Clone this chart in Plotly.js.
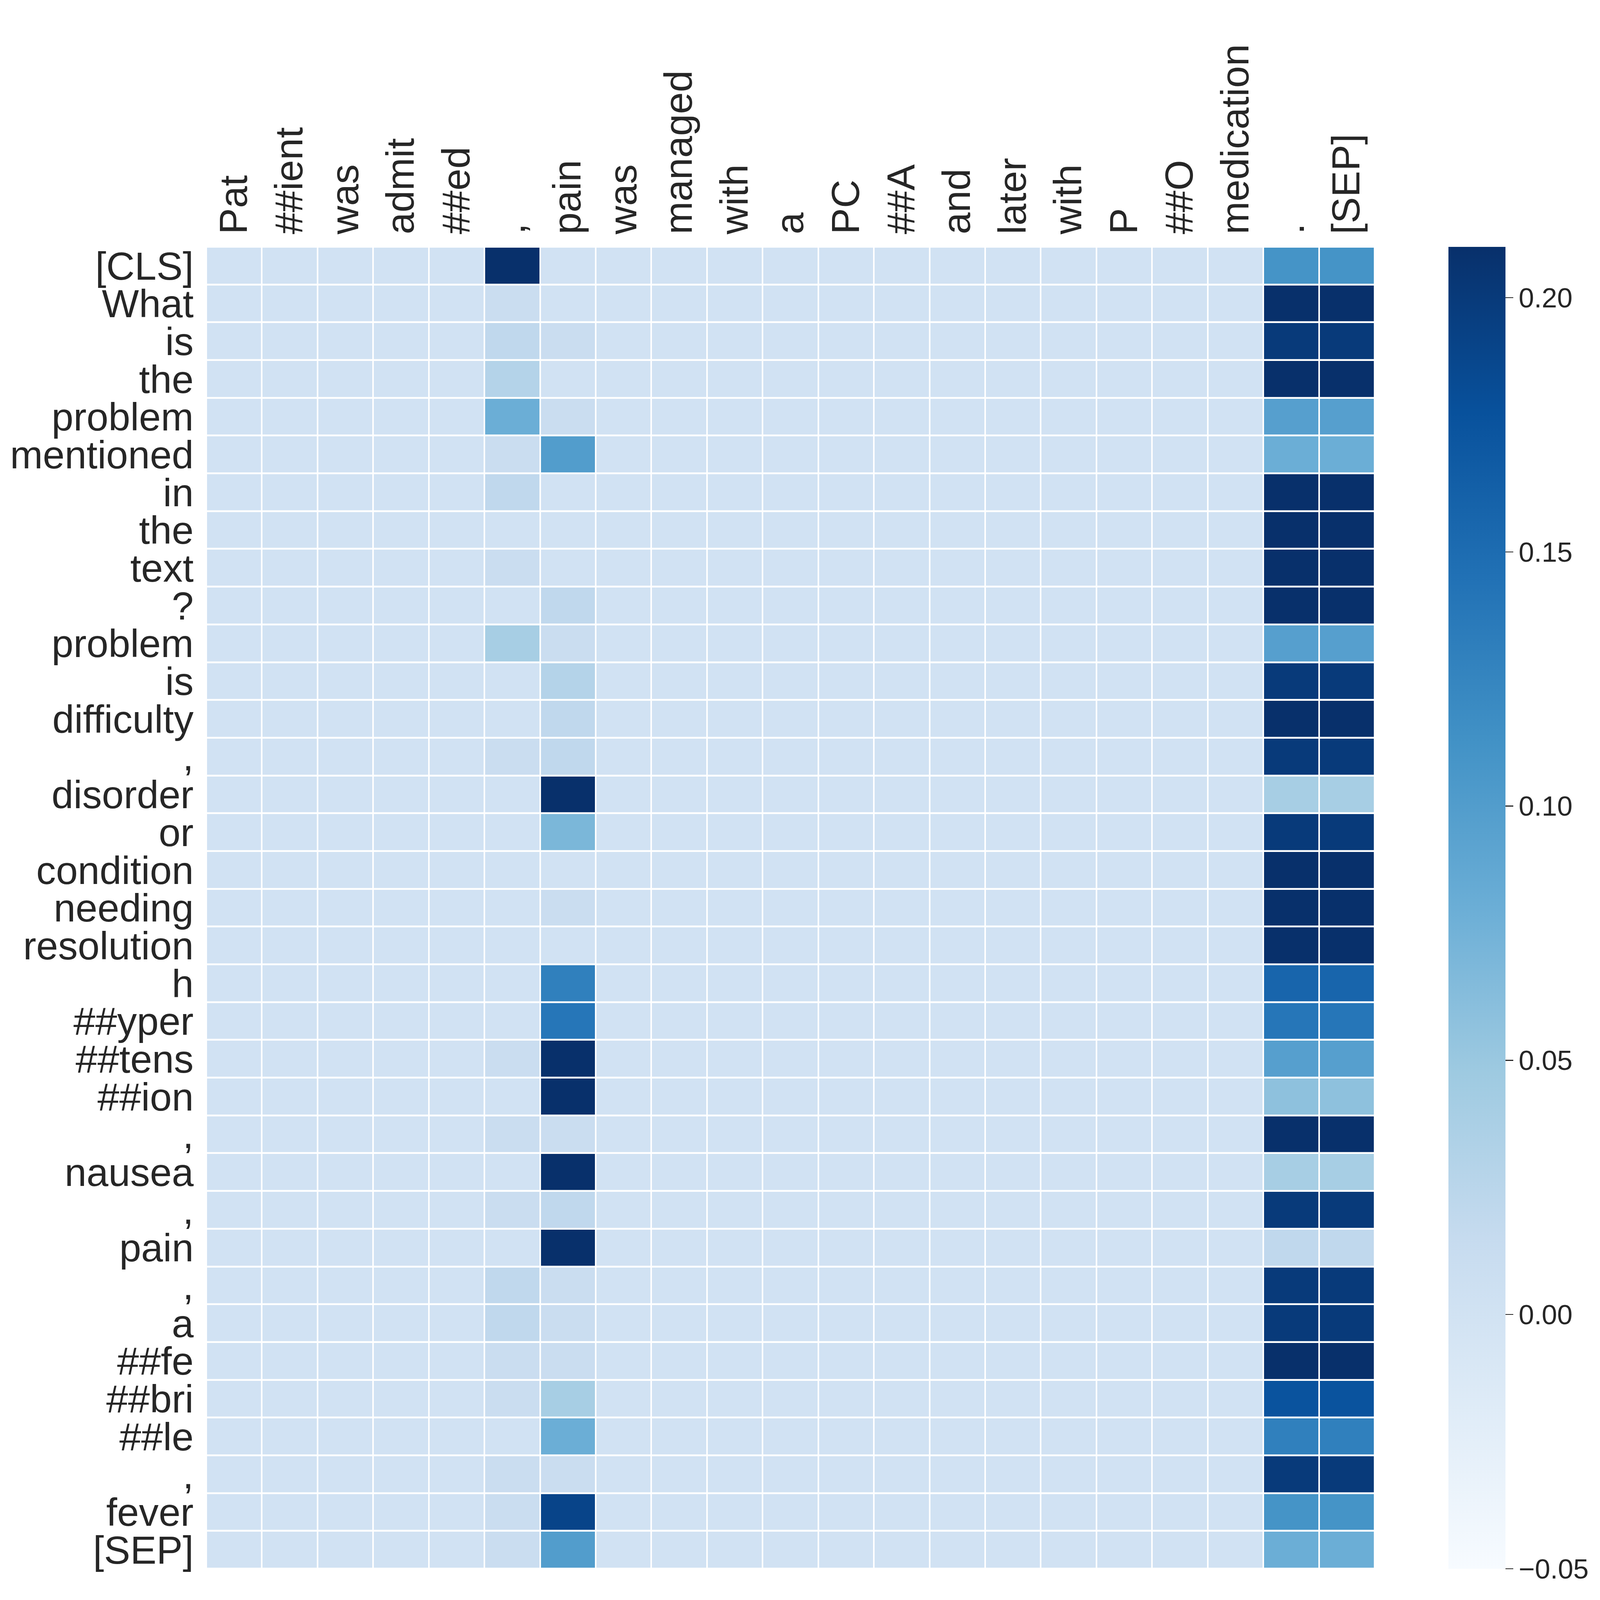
<!DOCTYPE html>
<html>
<head>
<meta charset="utf-8">
<script src="https://cdn.plot.ly/plotly-3.0.1.min.js"></script>
<style>html,body{margin:0;padding:0;background:#fff;overflow:hidden;}</style>
</head>
<body>
<div id="chart"></div>
<script>
// Column tokens (context) and row tokens (question)
const xLabels = ["Pat","##ient","was","admit","##ed",",","pain","was","managed","with","a","PC","##A","and","later","with","P","##O","medication",".","[SEP]"];
const yLabels = ["[CLS]","What","is","the","problem","mentioned","in","the","text","?","problem","is","difficulty",",","disorder","or","condition","needing","resolution","h","##yper","##tens","##ion",",","nausea",",","pain",",","a","##fe","##bri","##le",",","fever","[SEP]"];

// Attention values per column (one value per row token)
const flatCol   = [0,0,0,0,0,0,0,0,0,0,0,0,0,0,0,0,0,0,0,0,0,0,0,0,0,0,0,0,0,0,0,0,0,0,0];
const commaCol  = [0.24,0.01,0.02,0.03,0.08,0.01,0.02,0,0.01,0,0.04,0,0,0.01,0,0,0,0,0,0,0,0.01,0,0.01,0,0.01,0,0.02,0.02,0.01,0.01,0,0.01,0.01,0.01];
const painCol   = [0,0,0.01,0,0.01,0.10,0,0,0,0.02,0.01,0.03,0.02,0.02,0.24,0.07,0,0.01,0,0.13,0.14,0.23,0.23,0.01,0.23,0.02,0.23,0.01,0.01,0.01,0.04,0.08,0.01,0.19,0.10];
const periodCol = [0.11,0.22,0.20,0.22,0.097,0.08,0.22,0.22,0.22,0.22,0.097,0.20,0.22,0.20,0.04,0.20,0.22,0.22,0.22,0.157,0.14,0.097,0.058,0.22,0.04,0.20,0.02,0.20,0.20,0.22,0.175,0.13,0.20,0.11,0.08];
const sepCol    = [0.11,0.22,0.20,0.22,0.097,0.08,0.22,0.22,0.22,0.22,0.097,0.20,0.22,0.20,0.04,0.20,0.22,0.22,0.22,0.157,0.14,0.097,0.058,0.22,0.04,0.20,0.02,0.20,0.20,0.22,0.175,0.13,0.20,0.11,0.08];

const columns = [flatCol,flatCol,flatCol,flatCol,flatCol,commaCol,painCol,flatCol,flatCol,flatCol,flatCol,flatCol,flatCol,flatCol,flatCol,flatCol,flatCol,flatCol,flatCol,periodCol,sepCol];

const cbVals = [-0.05,0,0.05,0.10,0.15,0.20];
const cbText = ["\u22120.05","0.00","0.05","0.10","0.15","0.20"];

const z = yLabels.map((_, r) => columns.map(col => col[r]));
const xIdx = xLabels.map((_, i) => i);
const yIdx = yLabels.map((_, i) => i);

// Fill whatever viewport is available with the 5088x4378 design proportions
const BW = 5088, BH = 4378;
const vw = window.innerWidth || BW, vh = window.innerHeight || BH;
const sx = vw / BW, sy = vh / BH;
const sf = Math.min(sx, sy);
const hx = v => v * sx, hy = v => v * sy, f = v => v * sf;

const blues = [[0,'#f7fbff'],[0.125,'#deebf7'],[0.25,'#c6dbef'],[0.375,'#9ecae1'],[0.5,'#6baed6'],[0.625,'#4292c6'],[0.75,'#2171b5'],[0.875,'#08519c'],[1,'#08306b']];
const FONT = 'Liberation Sans, Arial, sans-serif';
const TXT = '#262626';

const trace = {
  type: 'heatmap',
  x: xIdx, y: yIdx, z: z,
  zmin: -0.05, zmax: 0.21,
  colorscale: blues,
  xgap: hx(5), ygap: hy(5),
  colorbar: {
    x: 1.0633, xanchor: 'left', y: 0.5, yanchor: 'middle',
    len: 1, lenmode: 'fraction', thickness: hx(181), thicknessmode: 'pixels',
    outlinewidth: 0, xpad: 0, ypad: 0,
    ticks: 'outside', ticklen: hx(25), tickwidth: f(3), tickcolor: TXT,
    tickvals: cbVals, ticktext: cbText,
    tickfont: {family: FONT, size: f(88), color: TXT}
  }
};

const layout = {
  width: vw, height: vh,
  margin: {l: hx(656), r: hx(717), t: hy(676), b: hy(86), pad: 0},
  paper_bgcolor: '#ffffff', plot_bgcolor: '#ffffff',
  font: {family: FONT, color: TXT},
  xaxis: {
    side: 'top', range: [-0.5, 20.5], tickvals: xIdx, ticktext: xLabels,
    tickangle: -90, ticks: 'outside', ticklen: hy(12), tickcolor: 'rgba(0,0,0,0)',
    showgrid: false, zeroline: false, showline: false,
    tickfont: {family: FONT, size: f(125), color: TXT}, automargin: false
  },
  yaxis: {
    range: [34.5, -0.5], tickvals: yIdx, ticktext: yLabels,
    ticks: 'outside', ticklen: hx(14), tickcolor: 'rgba(0,0,0,0)',
    showgrid: false, zeroline: false, showline: false,
    tickfont: {family: FONT, size: f(125), color: TXT}, automargin: false
  }
};

Plotly.newPlot('chart', [trace], layout, {displayModeBar: false, staticPlot: true});
</script>
</body>
</html>
